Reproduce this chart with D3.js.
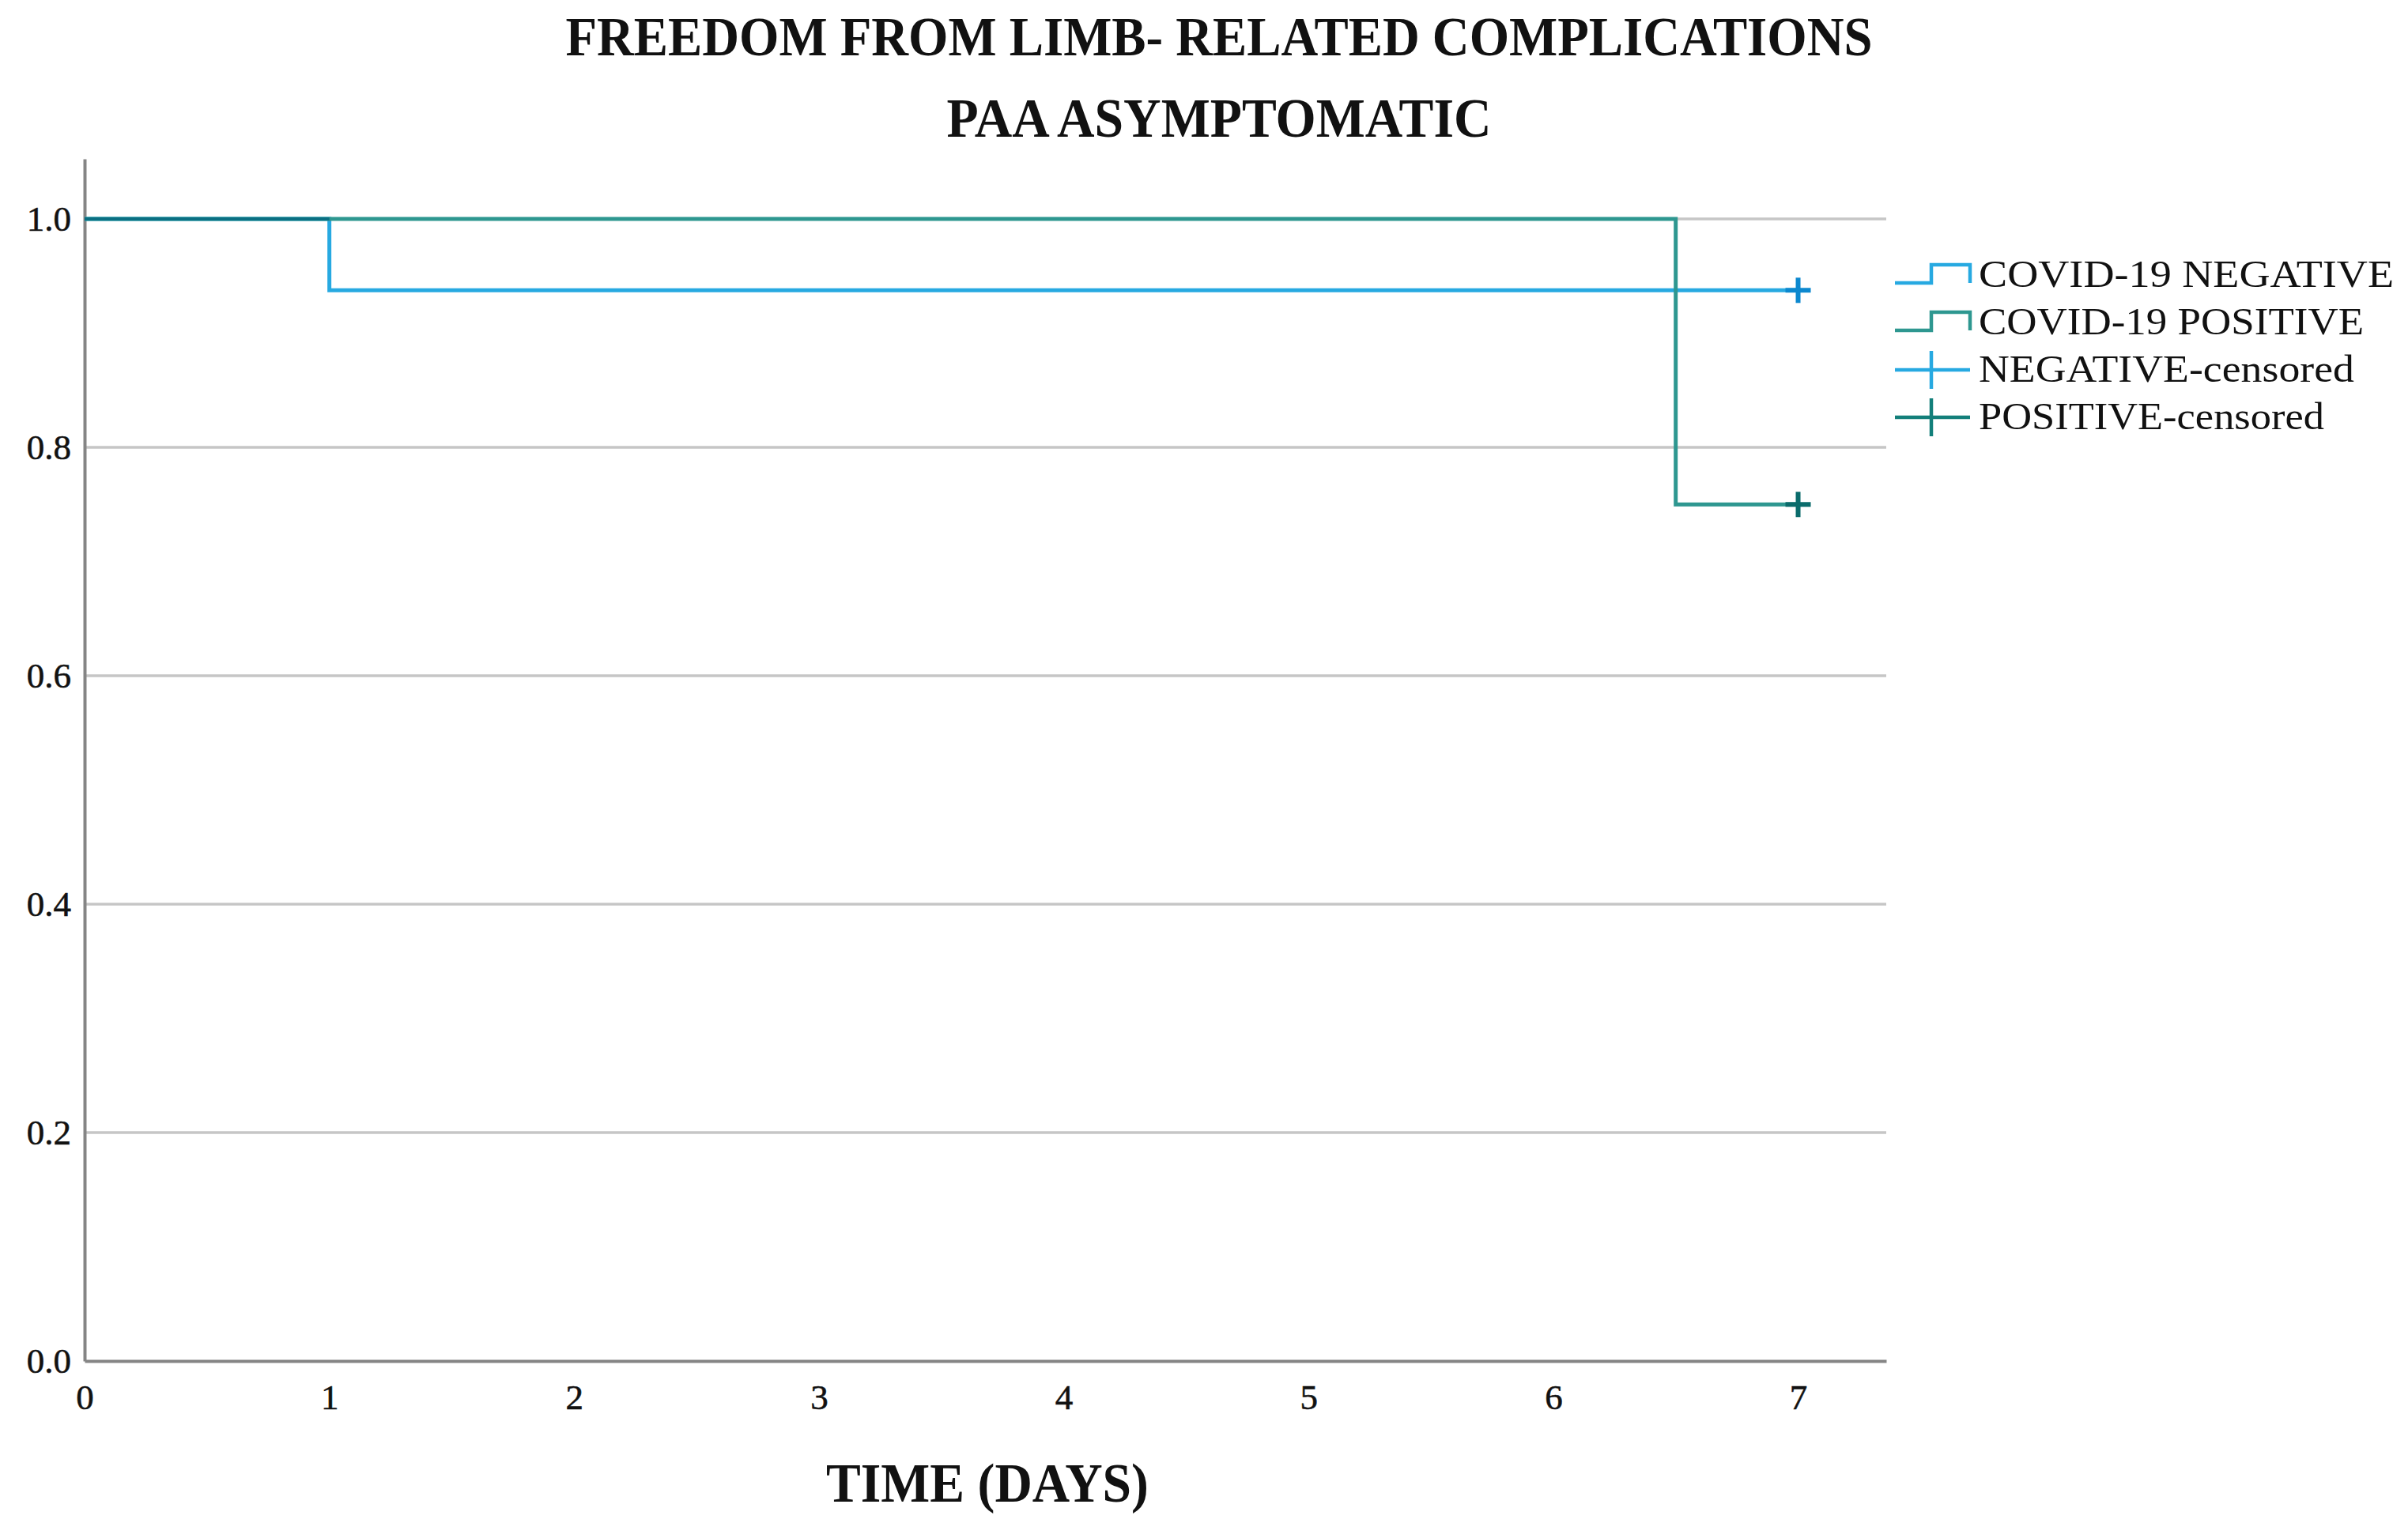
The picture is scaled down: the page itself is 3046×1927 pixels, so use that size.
<!DOCTYPE html>
<html>
<head>
<meta charset="utf-8">
<script src="https://cdn.jsdelivr.net/npm/d3@7"></script>
<style>
  html, body { margin: 0; padding: 0; background: #fff; }
  svg { display: block; }
  text { font-family: "Liberation Serif", "Times New Roman", serif; fill: #111; }
</style>
</head>
<body>
<svg id="chart" width="3046" height="1927"></svg>
<script>
// ---- data ----
const titleLines = ["FREEDOM FROM LIMB- RELATED COMPLICATIONS", "PAA ASYMPTOMATIC"];
const xTitle = "TIME (DAYS)";
const xTicks = [0, 1, 2, 3, 4, 5, 6, 7];
const yTicks = [0.0, 0.2, 0.4, 0.6, 0.8, 1.0];
const seriesNames = ["COVID-19 NEGATIVE", "COVID-19 POSITIVE"];
const censorNames = ["NEGATIVE-censored", "POSITIVE-censored"];
const negTimes = [0, 1, 7];
const negSurv = [1.0, 0.9375, 0.9375];
const posTimes = [0, 6.5, 7];
const posSurv = [1.0, 0.75, 0.75];
const negCensorT = [7];
const negCensorS = [0.9375];
const posCensorT = [7];
const posCensorS = [0.75];

// ---- styles ----
const colNeg = "#27a9e1", colPos = "#2e9790";
const colNegCens = "#0c88cf", colPosCens = "#0b6c6c";

const svg = d3.select("#chart");
const x = d3.scaleLinear().domain([0, 7.36]).range([107, 2386]);
const y = d3.scaleLinear().domain([0, 1.0526]).range([1722, 201]);

// gridlines
svg.append("g").selectAll("line").data(yTicks.filter(d => d > 0)).join("line")
  .attr("x1", x(0)).attr("x2", x(7.36))
  .attr("y1", d => y(d)).attr("y2", d => y(d))
  .attr("stroke", "#c6c6c6").attr("stroke-width", 3.5);

// axes
const yAxis = svg.append("g").attr("transform", `translate(${x(0)},0)`)
  .call(d3.axisLeft(y).tickValues(yTicks).tickFormat(d3.format(".1f")).tickSize(0).tickPadding(17));
const xAxis = svg.append("g").attr("transform", `translate(0,${y(0)})`)
  .call(d3.axisBottom(x).tickValues(xTicks).tickFormat(d3.format("d")).tickSize(0).tickPadding(29));
[yAxis, xAxis].forEach(g => {
  g.select(".domain").attr("stroke", "#858585").attr("stroke-width", 4);
  g.selectAll("text").attr("font-family", "Liberation Serif").attr("font-size", 45).attr("fill", "#1a1a1a")
    .attr("stroke", "#1a1a1a").attr("stroke-width", 0.6);
});

// survival curves
const line = d3.line().x(d => x(d[0])).y(d => y(d[1])).curve(d3.curveStepAfter);
const negData = negTimes.map((t, i) => [t, negSurv[i]]);
const posData = posTimes.map((t, i) => [t, posSurv[i]]);
svg.append("path").datum(negData).attr("d", line)
  .attr("fill", "none").attr("stroke", colNeg).attr("stroke-width", 5);
svg.append("path").datum(posData).attr("d", line)
  .attr("fill", "none").attr("stroke", colPos).attr("stroke-width", 5);
// dark overlap look at start
svg.append("path").datum(negData.slice(0, 2).map((d, i) => i === 1 ? [d[0], 1.0] : d)).attr("d", line)
  .attr("fill", "none").attr("stroke", "#0a6f82").attr("stroke-width", 4);

// censor marks
function plus(g, cx, cy, s, color, w) {
  g.append("line").attr("x1", cx - s).attr("x2", cx + s).attr("y1", cy).attr("y2", cy)
    .attr("stroke", color).attr("stroke-width", w);
  g.append("line").attr("x1", cx).attr("x2", cx).attr("y1", cy - s).attr("y2", cy + s)
    .attr("stroke", color).attr("stroke-width", w);
}
const cg = svg.append("g");
negCensorT.forEach((t, i) => plus(cg, x(t), y(negCensorS[i]), 16, colNegCens, 6));
posCensorT.forEach((t, i) => plus(cg, x(t), y(posCensorS[i]), 16, colPosCens, 6));

// titles
const titleBase = [70, 173], titleW = [1653, 689];
titleLines.forEach((t, i) => {
  svg.append("text").attr("x", 1542).attr("y", titleBase[i])
    .attr("text-anchor", "middle").attr("font-weight", "bold").attr("font-size", 70)
    .attr("textLength", titleW[i]).attr("lengthAdjust", "spacingAndGlyphs")
    .text(t);
});
svg.append("text").attr("x", 1249).attr("y", 1900)
  .attr("text-anchor", "middle").attr("font-weight", "bold").attr("font-size", 70)
  .attr("textLength", 408).attr("lengthAdjust", "spacingAndGlyphs")
  .text(xTitle);

// legend
const lg = svg.append("g");
const legX0 = 2397, legX1 = 2492, legStep = 2443, textX = 2503;
const baselines = [363, 423, 483, 543];
const textW = [525, 487, 475, 437];
const labels = seriesNames.concat(censorNames);
[colNeg, colPos].forEach((c, i) => {
  const low = baselines[i] - 5, high = baselines[i] - 28;
  lg.append("path")
    .attr("d", `M${legX0},${low}H${legStep}V${high}H${legX1}V${low}`)
    .attr("fill", "none").attr("stroke", c).attr("stroke-width", 4.5);
});
[colNeg, "#137f7a"].forEach((c, i) => {
  const cy = baselines[i + 2] - 15;
  lg.append("line").attr("x1", legX0).attr("x2", legX1).attr("y1", cy).attr("y2", cy)
    .attr("stroke", c).attr("stroke-width", 4.5);
  lg.append("line").attr("x1", legStep).attr("x2", legStep).attr("y1", cy - 24).attr("y2", cy + 24)
    .attr("stroke", c).attr("stroke-width", 4.5);
});
labels.forEach((t, i) => {
  lg.append("text").attr("x", textX).attr("y", baselines[i])
    .attr("font-size", 49).attr("textLength", textW[i]).attr("lengthAdjust", "spacingAndGlyphs")
    .text(t);
});
</script>
</body>
</html>
